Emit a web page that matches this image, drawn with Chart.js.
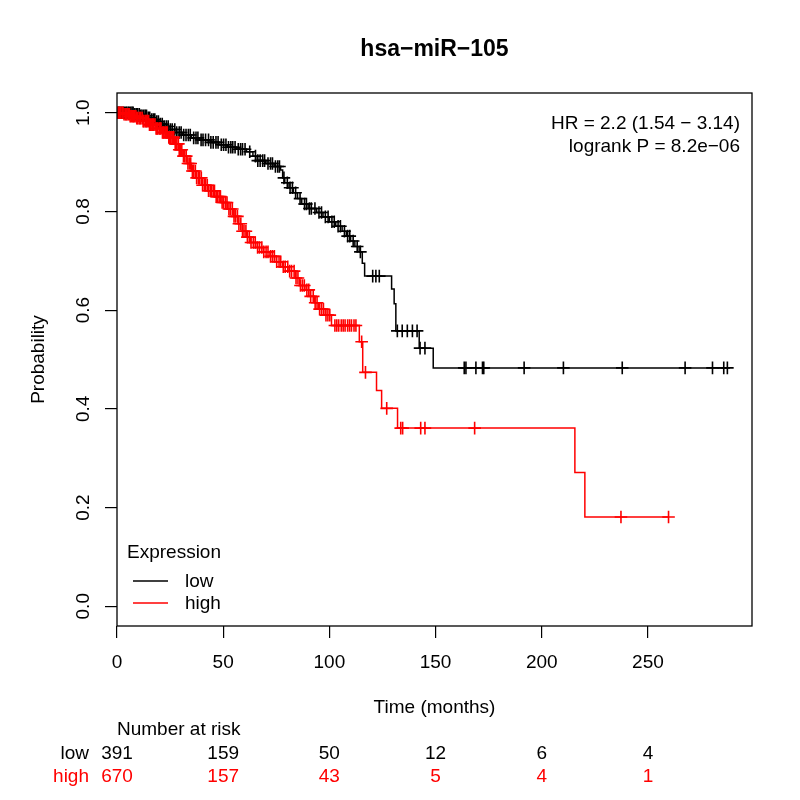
<!DOCTYPE html>
<html>
<head>
<meta charset="utf-8">
<script src="https://cdn.jsdelivr.net/npm/chart.js@4"></script>
<style>
html,body{margin:0;padding:0;background:#fff;}
#c{display:block;}
</style>
</head>
<body>
<canvas id="c" width="800" height="800"></canvas>
<script>
// ---------------- data ----------------
const chartTitle = "hsa\u2212miR\u2212105";
const xTicks = [0, 50, 100, 150, 200, 250];
const yTicks = [0, 0.2, 0.4, 0.6, 0.8, 1.0];
const yTickLabels = ["0.0", "0.2", "0.4", "0.6", "0.8", "1.0"];
const xLabel = "Time (months)";
const yLabel = "Probability";
const statText = ["HR = 2.2 (1.54 \u2212 3.14)", "logrank P = 8.2e\u221206"];
const groups = ["low", "high"];
const legendTitle = "Expression";

// Kaplan-Meier steps: event times and survival after each event
const lowTimes = [0, 8, 11, 14, 16, 18, 20, 22, 25, 28, 31, 35, 39, 44, 48, 52, 56, 61, 64, 66, 70, 74, 77, 78, 79, 81, 83, 85, 87, 90, 94, 97, 100, 103, 106, 108, 110, 112, 114, 115.5, 116.6, 129.3, 130.5, 131.3, 142.3, 148.9];
const lowSurv  = [1, 0.997, 0.994, 0.990, 0.986, 0.982, 0.977, 0.972, 0.966, 0.960, 0.955, 0.949, 0.945, 0.940, 0.935, 0.930, 0.926, 0.921, 0.912, 0.903, 0.897, 0.891, 0.884, 0.868, 0.858, 0.848, 0.838, 0.826, 0.815, 0.806, 0.798, 0.789, 0.779, 0.770, 0.760, 0.750, 0.740, 0.729, 0.718, 0.695, 0.669, 0.643, 0.613, 0.558, 0.523, 0.483];
const lowCensor = [0.5, 1, 1.6, 2.2, 2.9, 3.4, 4.1, 4.6, 5.3, 5.8, 6.5, 7.1, 7.6, 8.4, 9.1, 9.7, 10.5, 11.2, 11.8, 12.6, 13.3, 13.9, 14.7, 15.4, 16.3, 17.1, 17.8, 18.7, 19.5, 20.4, 21.3, 22.2, 23.2, 24.1, 25.1, 26, 27.2, 28.1, 29.3, 30.2, 31.4, 32.5, 33.6, 34.5, 36.1, 37.2, 38.1, 39.6, 40.5, 41.7, 43.1, 44.2, 45.3, 46.6, 47.6, 49.1, 50.2,
  51.3, 52.5, 53.6, 54.5, 55.6, 57.1, 58.2, 59.1, 60.3, 62.5, 65.2, 66.3, 67.4, 68.6, 69.5, 71.1, 72.3, 73.2, 74.6, 75.7, 76.5, 78.6, 80.2, 81.5, 82.6, 84.1, 86.2, 88.3, 89.2, 90.6, 91.5, 93.2, 95.1, 96.3, 98.1, 99.4, 101.2, 102.3, 104.1, 105.2, 107.1, 108.6, 109.6, 111.2, 113.1, 114.6,
  120.4, 121.9, 123.5, 132, 134.3, 136.7, 139.1, 141.3, 142.7, 145, 163.5, 164.3, 169, 172.1, 172.7, 191.7, 210.2, 237.9, 267.5, 280.4, 285.7, 287.4];

const highTimes = [0, 3, 6, 9, 12, 15, 18, 21, 24, 27, 29, 31, 33, 35, 37, 40, 43, 46, 49, 52, 55, 57, 59, 61, 63, 66, 69, 72, 75, 78, 81, 84, 86, 89, 91, 93, 95, 98, 101, 114.1, 115.7, 122.2, 124.6, 132.1, 215.6, 220.3];
const highSurv  = [1, 0.997, 0.993, 0.989, 0.983, 0.976, 0.968, 0.960, 0.950, 0.937, 0.925, 0.912, 0.897, 0.882, 0.868, 0.853, 0.842, 0.830, 0.818, 0.805, 0.790, 0.775, 0.760, 0.748, 0.737, 0.727, 0.718, 0.709, 0.698, 0.688, 0.679, 0.665, 0.650, 0.641, 0.628, 0.615, 0.602, 0.590, 0.569, 0.536, 0.474, 0.437, 0.401, 0.361, 0.271, 0.181];
const highCensor = [0.3, 0.8, 1.2, 1.8, 2.4, 2.8, 3.3, 3.9, 4.3, 4.7, 5.3, 5.9, 6.2, 6.8, 7.4, 7.8, 8.2, 8.9, 9.3, 9.7, 10.4, 10.8, 11.2, 11.9, 12.3, 12.7, 13.4, 13.8, 14.2, 14.9, 15.3, 15.7, 16.4, 16.8, 17.2, 17.9, 18.4, 18.8, 19.2, 19.9, 20.3, 20.7, 21.4, 21.8, 22.2, 22.9, 23.3, 23.7, 24.4, 24.8, 25.3, 25.9, 26.3, 26.7, 27.4, 27.8, 28.2, 28.9, 29.3, 29.8, 30.5, 31.3, 31.9, 32.6, 33.4, 34.1, 34.7, 35.5, 36.1, 36.9, 37.5, 38.3, 38.9, 39.7, 40.3, 41.1, 41.7, 42.5, 43.1, 43.9, 44.5, 45.3, 45.9, 46.7, 47.3, 48.1, 48.7, 49.5,
  50.2, 51.1, 51.8, 52.7, 53.4, 54.3, 55.1, 55.8, 56.7, 57.4, 58.3, 59.1, 59.8, 60.7, 61.4, 62.3, 63.1, 64.2, 65.1, 66.2, 67.1, 68.2, 69.1, 70.2, 71.1, 72.3, 73.2, 74.1, 75.2, 76.3, 77.1, 78.3, 79.2, 80.4, 81.3, 82.2, 83.4, 84.3, 85.2, 86.4, 87.3, 88.2, 89.4, 90.3, 91.2, 92.4, 93.3, 94.2, 95.4, 96.3, 97.2, 98.4, 99.3, 100.2,
  102.6, 103.5, 104.4, 105.6, 106.5, 107.4, 108.6, 109.5, 110.4, 111.6, 112.5, 115.2, 117, 127, 133.6, 134.5, 143, 145, 168.4, 237.3, 259.7];

// Number at risk table
const riskTimes = [0, 50, 100, 150, 200, 250];
const lowRisk  = [391, 159, 50, 12, 6, 4];
const highRisk = [670, 157, 43, 5, 4, 1];

// ---------------- helpers ----------------
const COL_LOW = "#000000";
const COL_HIGH = "#ff0000";
const FONT = "'Liberation Sans', Arial, Helvetica, sans-serif";

function stepPoints(times, surv, censor) {
  const pts = times.map((t, i) => ({x: t, y: surv[i]}));
  const last = censor[censor.length - 1];
  if (last > times[times.length - 1]) pts.push({x: last, y: surv[surv.length - 1]});
  return pts;
}
function survAt(times, surv, t) {
  let s = surv[0];
  for (let i = 0; i < times.length; i++) { if (times[i] <= t) s = surv[i]; else break; }
  return s;
}
function censorPoints(times, surv, censor) {
  return censor.map(t => ({x: t, y: survAt(times, surv, t)}));
}

const textPlugin = {
  id: 'rtext',
  afterDraw(chart) {
    const ctx = chart.ctx;
    const a = chart.chartArea;
    const xs = chart.scales.x, ys = chart.scales.y;
    ctx.save();
    // box
    ctx.strokeStyle = "#000";
    ctx.lineWidth = 1.3;
    ctx.strokeRect(a.left, a.top, a.right - a.left, a.bottom - a.top);
    ctx.fillStyle = "#000";
    // title
    ctx.font = "bold 23px " + FONT;
    ctx.textAlign = "center";
    ctx.textBaseline = "alphabetic";
    ctx.fillText(chartTitle, (a.left + a.right) / 2, 56);
    ctx.font = "19px " + FONT;
    // x tick labels
    xTicks.forEach(v => ctx.fillText(String(v), xs.getPixelForValue(v), 668));
    // x label
    ctx.fillText(xLabel, (a.left + a.right) / 2, 713);
    // y tick labels (rotated)
    yTicks.forEach((v, i) => {
      ctx.save();
      ctx.translate(89, ys.getPixelForValue(v));
      ctx.rotate(-Math.PI / 2);
      ctx.fillText(yTickLabels[i], 0, 0);
      ctx.restore();
    });
    ctx.save();
    ctx.translate(44, (a.top + a.bottom) / 2);
    ctx.rotate(-Math.PI / 2);
    ctx.fillText(yLabel, 0, 0);
    ctx.restore();
    // stats
    ctx.textAlign = "right";
    ctx.fillText(statText[0], 740, 129);
    ctx.fillText(statText[1], 740, 152);
    // legend
    ctx.textAlign = "left";
    ctx.fillText(legendTitle, 127, 558);
    [[COL_LOW, 581, groups[0]], [COL_HIGH, 603, groups[1]]].forEach(([c, y, lab]) => {
      ctx.strokeStyle = c;
      ctx.lineWidth = 1.3;
      ctx.beginPath(); ctx.moveTo(133, y); ctx.lineTo(168, y); ctx.stroke();
      ctx.fillStyle = "#000";
      ctx.fillText(lab, 185, y + 6);
    });
    // number at risk
    ctx.fillStyle = "#000";
    ctx.textAlign = "left";
    ctx.fillText("Number at risk", xs.getPixelForValue(0), 735);
    ctx.textAlign = "right";
    ctx.fillText(groups[0], 89, 759);
    ctx.fillStyle = COL_HIGH;
    ctx.fillText(groups[1], 89, 782);
    ctx.textAlign = "center";
    riskTimes.forEach((t, i) => {
      const px = xs.getPixelForValue(t);
      ctx.fillStyle = COL_LOW;
      ctx.fillText(String(lowRisk[i]), px, 759);
      ctx.fillStyle = COL_HIGH;
      ctx.fillText(String(highRisk[i]), px, 782);
    });
    ctx.restore();
  }
};

new Chart(document.getElementById('c'), {
  type: 'line',
  data: {
    datasets: [
      { label: 'high censor', data: censorPoints(highTimes, highSurv, highCensor), showLine: false,
        pointStyle: 'cross', pointRadius: 6.3, pointHoverRadius: 6.3, pointBorderWidth: 1.6,
        borderColor: COL_HIGH, backgroundColor: COL_HIGH },
      { label: 'high', data: stepPoints(highTimes, highSurv, highCensor), stepped: true,
        borderColor: COL_HIGH, borderWidth: 1.5, pointRadius: 0, fill: false },
      { label: 'low censor', data: censorPoints(lowTimes, lowSurv, lowCensor), showLine: false,
        pointStyle: 'cross', pointRadius: 6.3, pointHoverRadius: 6.3, pointBorderWidth: 1.6,
        borderColor: COL_LOW, backgroundColor: COL_LOW },
      { label: 'low', data: stepPoints(lowTimes, lowSurv, lowCensor), stepped: true,
        borderColor: COL_LOW, borderWidth: 1.5, pointRadius: 0, fill: false }
    ]
  },
  options: {
    responsive: false,
    animation: false,
    events: [],
    layout: { padding: { left: 0, top: 93, right: 48, bottom: 0 } },
    plugins: { legend: { display: false }, title: { display: false }, tooltip: { enabled: false } },
    scales: {
      x: {
        type: 'linear', min: 0, max: 299,
        afterBuildTicks: s => { s.ticks = xTicks.map(v => ({value: v})); },
        afterFit: s => { s.height = 174; },
        ticks: { display: false },
        grid: { display: true, drawOnChartArea: false, drawTicks: true, tickLength: 12, color: '#000', lineWidth: 1.2 },
        border: { display: false }
      },
      y: {
        type: 'linear', min: -0.04, max: 1.04,
        afterBuildTicks: s => { s.ticks = yTicks.map(v => ({value: v})); },
        afterFit: s => { s.width = 117; },
        ticks: { display: false },
        grid: { display: true, drawOnChartArea: false, drawTicks: true, tickLength: 12, color: '#000', lineWidth: 1.2 },
        border: { display: false }
      }
    }
  },
  plugins: [textPlugin]
});
</script>
</body>
</html>
